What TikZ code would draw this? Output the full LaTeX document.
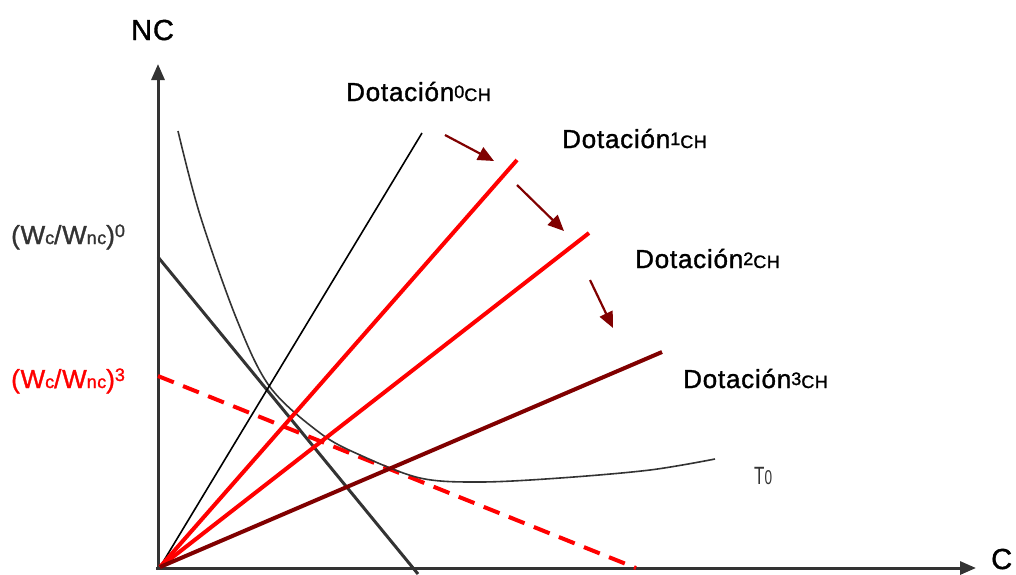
\documentclass[tikz,border=0pt]{standalone}
\usepackage{fontspec}
\setmainfont{Liberation Sans}
\newfontfamily\lf{Liberation Sans}[FakeBold=1.3,LetterSpace=3]
\usetikzlibrary{arrows.meta}
\definecolor{axisgray}{HTML}{333333}
\definecolor{darkred}{HTML}{800000}
\definecolor{rayred}{HTML}{FF0000}
\newcommand\smallf{\fontsize{18}{18}\selectfont}
\newcommand\smallw{\fontsize{18}{18}\selectfont}
\newcommand\dotlab[1]{Dotación\raisebox{3pt}{\smallf #1}{\smallf CH}}
\newcommand\wlab[1]{(W{\smallw c}/W{\smallw nc})\raisebox{7pt}{\smallw #1}}
\begin{document}
\begin{tikzpicture}[x=1pt,y=-1pt,
  lab/.style={inner sep=0pt,anchor=base west,font=\lf\fontsize{26}{26}\selectfont},
  axis/.style={draw=axisgray,line width=3pt,-{Triangle[length=16pt,width=13pt]}},
  ray/.style={line width=4pt,draw=rayred},
  shift arrow/.style={draw=darkred,line width=2.2pt,-{Triangle[length=16pt,width=14pt]}}]
\useasboundingbox (0,0) rectangle (1016,574);
% coordinates
\coordinate (O) at (160,567);
\coordinate (ybot) at (158,570);
\coordinate (ytop) at (158,64);
\coordinate (xl) at (156,568);
\coordinate (xr) at (976,568);
\coordinate (d0) at (422,133);
\coordinate (d1) at (517,160);
\coordinate (d2) at (589,233);
\coordinate (d3) at (662,352);
\coordinate (b0a) at (158,257);
\coordinate (b0b) at (418,574);
\coordinate (b3a) at (158,376);
\coordinate (b3b) at (636,568);
\coordinate (a1s) at (445,135); \coordinate (a1e) at (494,161);
\coordinate (a2s) at (517,185); \coordinate (a2e) at (564,231);
\coordinate (a3s) at (590,280); \coordinate (a3e) at (613,328);
% axes
\draw[axis] (ybot) -- (ytop);
\draw[axis] (xl) -- (xr);
% budget lines
\draw[draw=axisgray,line width=3pt] (b0a) -- (b0b);
\draw[draw=rayred,line width=4pt,dash pattern=on 17pt off 10pt] (b3a) -- (b3b);
% indifference curve
\draw[axisgray,line width=1.6pt] plot[smooth,tension=0.55] coordinates {(178,131) (200,215) (237,320) (270,387) (320,433) (360,455) (420,478) (480,482) (560,478) (650,470) (715,459)};
% rays
\draw[black,line width=1.6pt] (O) -- (d0);
\draw[ray] (O) -- (d1);
\draw[ray] (O) -- (d2);
\draw[ray,draw=darkred] (O) -- (d3);
% shift arrows
\draw[shift arrow] (a1s) -- (a1e);
\draw[shift arrow] (a2s) -- (a2e);
\draw[shift arrow] (a3s) -- (a3e);
% labels
\node[lab,font=\lf\fontsize{29}{29}\selectfont] (nc) at (131,40) {NC};
\node[lab,font=\lf\fontsize{29}{29}\selectfont] (c) at (991,569) {C};
\node[lab] (l0) at (346,101) {\dotlab{0}};
\node[lab] (l1) at (562,148) {\dotlab{1}};
\node[lab] (l2) at (635,268) {\dotlab{2}};
\node[lab] (l3) at (683,388) {\dotlab{3}};
\node[lab,text=axisgray] (w0) at (11,244) {\wlab{0}};
\node[lab,text=rayred] (w3) at (11,388) {\wlab{3}};
\node[inner sep=0pt,anchor=base west,font=\fontsize{25}{25}\selectfont,text=axisgray] (t0) at (754,484) {\scalebox{0.68}[1]{T{\fontsize{20}{20}\selectfont 0}}};
\end{tikzpicture}
\end{document}
